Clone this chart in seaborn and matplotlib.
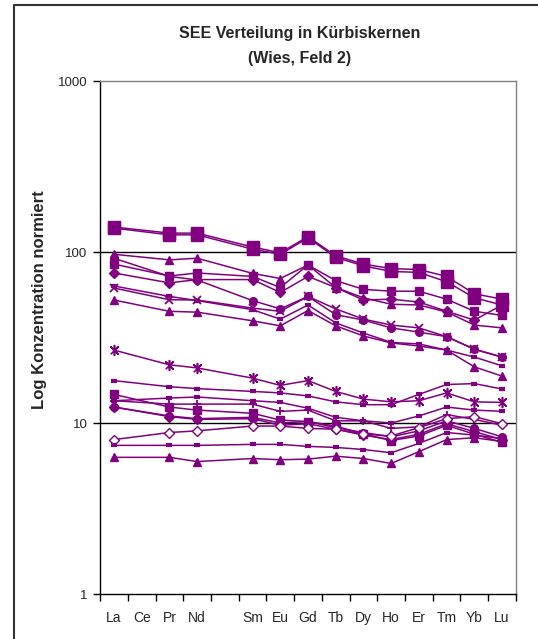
import numpy as np
import seaborn as sns
import matplotlib.pyplot as plt
from matplotlib.lines import Line2D
from matplotlib.ticker import NullLocator

# x-axis: Ce and Pm were not measured, the Pm slot has no label
elements = ["La", "Ce", "Pr", "Nd", "", "Sm", "Eu", "Gd", "Tb", "Dy", "Ho", "Er", "Tm", "Yb", "Lu"]
measured = ["La", "Pr", "Nd", "Sm", "Eu", "Gd", "Tb", "Dy", "Ho", "Er", "Tm", "Yb", "Lu"]

# normalised concentrations, one list per sample (order = measured)
s01 = [140, 129, 129, 107, 99, 123, 95, 85, 80, 79, 72, 57, 53]
s02 = [138, 126, 126, 104, 97, 121, 93, 83, 77, 76, 67, 54, 49]
s03 = [97, 90, 92, 75, 70, 84, 62, 54, 49.5, 49, 44.6, 37.4, 36]
s04 = [92, 72, 68.6, 52, 46.5, 55, 43, 40, 36, 34, 32, 27, 24.3]
s05 = [85, 72.4, 75.4, 72, 62, 84, 68, 60.5, 59, 59, 53, 45, 42.6]
s06 = [75.4, 66, 69, 69, 58, 72, 62, 52.4, 53, 51, 45, 40, 49]
s07 = [63.3, 55, 52, 46, 40.5, 49, 38.5, 33.6, 29.6, 29, 26.7, 24.3, 21.6]
s08 = [61.6, 52.6, 52.4, 47, 45, 55, 46.5, 40.5, 37.4, 36, 32, 27, 24.3]
s09 = [52.4, 45, 44.5, 39.6, 37, 45.5, 37, 32.3, 29.4, 28.2, 26.7, 21.3, 18.8]
s10 = [26.7, 21.9, 21.0, 18.3, 16.6, 17.7, 15.3, 13.8, 13.3, 13.5, 15.0, 13.3, 13.2]
s11 = [17.7, 16.3, 15.9, 15.3, 15.0, 14.4, 13.3, 12.8, 12.8, 14.7, 16.8, 17.0, 15.8]
s12 = [14.7, 12.4, 11.9, 11.4, 10.4, 10.2, 9.6, 8.6, 7.9, 8.4, 9.7, 8.6, 7.7]
s13 = [13.5, 14.0, 14.2, 13.5, 13.2, 12.2, 10.8, 10.3, 10.0, 11.0, 12.4, 11.9, 11.7]
s14 = [13.5, 12.9, 12.9, 12.9, 11.7, 11.9, 10.3, 10.3, 9.3, 9.5, 11.2, 10.5, 9.7]
s15 = [12.4, 10.9, 10.5, 10.6, 9.7, 9.9, 9.2, 8.5, 8.0, 8.6, 9.9, 8.9, 8.0]
s16 = [12.4, 11.0, 10.6, 10.8, 10.0, 10.2, 9.4, 8.8, 8.3, 9.0, 10.3, 9.3, 8.3]
s17 = [8.0, 8.8, 9.0, 9.6, 9.6, 9.3, 9.2, 8.6, 8.4, 9.4, 10.6, 10.9, 9.9]
s18 = [7.4, 7.4, 7.4, 7.5, 7.5, 7.3, 7.2, 7.0, 6.7, 7.6, 8.8, 8.5, 8.1]
s19 = [6.3, 6.3, 5.95, 6.2, 6.1, 6.15, 6.4, 6.2, 5.8, 6.8, 8.0, 8.2, 7.8]

samples = [s01, s02, s03, s04, s05, s06, s07, s08, s09, s10,
           s11, s12, s13, s14, s15, s16, s17, s18, s19]

purple = "#800080"
star = [(-1, -1), (1, 1), (0, 0), (-1, 1), (1, -1), (0, 0), (0, 1.3), (0, -1.3), (0, 0)]
# marker, size, face colour, edge width
styles = [("s", 8, purple, 1), ("s", 8, purple, 1), ("^", 6, purple, 1), ("o", 5.5, purple, 1),
          ("s", 5.5, purple, 1), ("D", 5, purple, 1), ("_", 5, purple, 3), ("x", 5.5, purple, 1.3),
          ("^", 6, purple, 1), (star, 7, purple, 1.2), ("_", 5, purple, 3), ("s", 6, purple, 1),
          ("_", 5, purple, 3), ("+", 6, purple, 1.3), ("D", 5, purple, 1), ("o", 5.5, purple, 1),
          ("D", 5, "white", 1), ("_", 5, purple, 3), ("^", 6, purple, 1)]

sns.set_style("white")
plt.rcParams["font.family"] = ["Liberation Sans", "DejaVu Sans"]

fig = plt.figure(figsize=(5.38, 6.39), dpi=100)
ax = fig.add_axes([0.186, 0.0704, 0.773, 0.8028])

pos = [elements.index(e) for e in measured]
for vals, (m, ms, fc, mew) in zip(samples, styles):
    sns.lineplot(x=pos, y=vals, ax=ax, color=purple, lw=1.1, marker=m, markersize=ms,
                 markerfacecolor=fc, markeredgecolor=purple, markeredgewidth=mew, legend=False)

ax.set_yscale("log")
ax.set_ylim(1, 1000)
ax.set_yticks([1, 10, 100, 1000])
ax.set_yticklabels(["1", "10", "100", "1000"])
ax.yaxis.set_minor_locator(NullLocator())
ax.axhline(10, color="black", lw=1, zorder=0)
ax.axhline(100, color="black", lw=1, zorder=0)

ax.set_xlim(-0.5, len(elements) - 0.5)
ax.set_xticks(np.arange(-0.5, len(elements), 1))
ax.set_xticklabels([])
ax.set_xticks(np.arange(len(elements)), minor=True)
ax.set_xticklabels(elements, minor=True)
ax.tick_params(axis="x", which="major", direction="out", length=5, width=1, color="black", bottom=True)
ax.tick_params(axis="x", which="minor", length=0, pad=12, labelsize=10)
ax.tick_params(axis="y", which="major", direction="out", length=5, width=1, color="black",
               left=True, labelsize=9.5, pad=4)

for side in ["left", "bottom"]:
    ax.spines[side].set_color("black")
    ax.spines[side].set_linewidth(1)
for side in ["top", "right"]:
    ax.spines[side].set_color("#808080")
    ax.spines[side].set_linewidth(1)

ax.set_ylabel("")
ax.set_xlabel("")
fig.text(40 / 538, 1 - 300 / 639, "Log Konzentration normiert", rotation=90, ha="center",
         va="center", fontsize=12, fontweight="bold")
fig.text(0.557, 0.947, "SEE Verteilung in Kürbiskernen", ha="center", va="center",
         fontsize=11.5, fontweight="bold")
fig.text(0.557, 0.909, "(Wies, Feld 2)", ha="center", va="center", fontsize=11.5, fontweight="bold")

# chart frame (top and left edge)
fig.add_artist(Line2D([14 / 538, 14 / 538, 1], [0, 1 - 5 / 639, 1 - 5 / 639],
                      transform=fig.transFigure, color="#333333", lw=1.5))

fig.savefig("out.png", dpi=100)
